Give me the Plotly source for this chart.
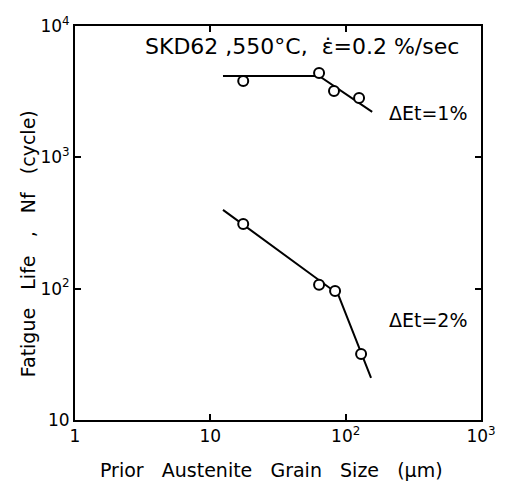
import plotly.graph_objects as go

# Data (log-log)
grain_1pct = [17.5, 63.6, 82, 125.6]
life_1pct = [3820, 4395, 3205, 2833]
fit_x_1pct = [12.4, 63.6, 157]
fit_y_1pct = [4170, 4170, 2218]

grain_2pct = [17.5, 63.6, 83.5, 130]
life_2pct = [311, 107, 96, 31.8]
fit_x_2pct = [12.4, 87.8, 154]
fit_y_2pct = [398, 91, 20.9]

x_tickvals = [1, 10, 100, 1000]
x_ticktext = ["1", "10", "10<sup>2</sup>", "10<sup>3</sup>"]
y_tickvals = [10, 100, 1000, 10000]
y_ticktext = ["10", "10<sup>2</sup>", "10<sup>3</sup>", "10<sup>4</sup>"]

FONT = "DejaVu Sans"
fig = go.Figure()

for fx, fy in [(fit_x_1pct, fit_y_1pct), (fit_x_2pct, fit_y_2pct)]:
    fig.add_trace(go.Scatter(x=fx, y=fy, mode="lines",
                             line=dict(color="black", width=2),
                             showlegend=False, hoverinfo="skip"))
for gx, ly in [(grain_1pct, life_1pct), (grain_2pct, life_2pct)]:
    fig.add_trace(go.Scatter(x=gx, y=ly, mode="markers",
                             marker=dict(symbol="circle", size=10, color="white",
                                         line=dict(color="black", width=2)),
                             showlegend=False))

axis_common = dict(showgrid=False, zeroline=False, showline=True, linecolor="black",
                   linewidth=2, mirror="ticks", ticks="inside", ticklen=6,
                   tickwidth=2, tickcolor="black", automargin=False,
                   tickfont=dict(family=FONT, size=17, color="black"))

fig.update_xaxes(type="log", range=[0, 3], tickvals=x_tickvals, ticktext=x_ticktext,
                 **axis_common)
fig.update_yaxes(type="log", range=[1, 4], tickvals=y_tickvals, ticktext=y_ticktext,
                 **axis_common)

annots = [
    dict(text="SKD62 ,550°C,  ε̇=0.2 %/sec", x=0.95, y=0.947, size=22),
    dict(text="ΔEt=1%", x=0.973, y=0.779, size=19),
    dict(text="ΔEt=2%", x=0.973, y=0.254, size=19),
]
for a in annots:
    fig.add_annotation(text=a["text"], x=a["x"], y=a["y"], xref="paper", yref="paper",
                       xanchor="right", yanchor="middle", showarrow=False,
                       font=dict(family=FONT, size=a["size"], color="black"))

fig.add_annotation(text="Prior   Austenite   Grain   Size   (μm)", x=0.483, y=-0.127,
                   xref="paper", yref="paper", xanchor="center", yanchor="middle",
                   showarrow=False, font=dict(family=FONT, size=19, color="black"))
fig.add_annotation(text="Fatigue   Life   ,   Nf   (cycle)", x=-0.115, y=0.447,
                   xref="paper", yref="paper", xanchor="center", yanchor="middle",
                   textangle=-90, showarrow=False,
                   font=dict(family=FONT, size=19, color="black"))

# page body has an 8px default margin; size the figure to fit the 506x483 window
fig.update_layout(width=498, height=475, margin=dict(l=67, r=25, t=18, b=63),
                  paper_bgcolor="white", plot_bgcolor="white")

fig.write_html("out.html")
